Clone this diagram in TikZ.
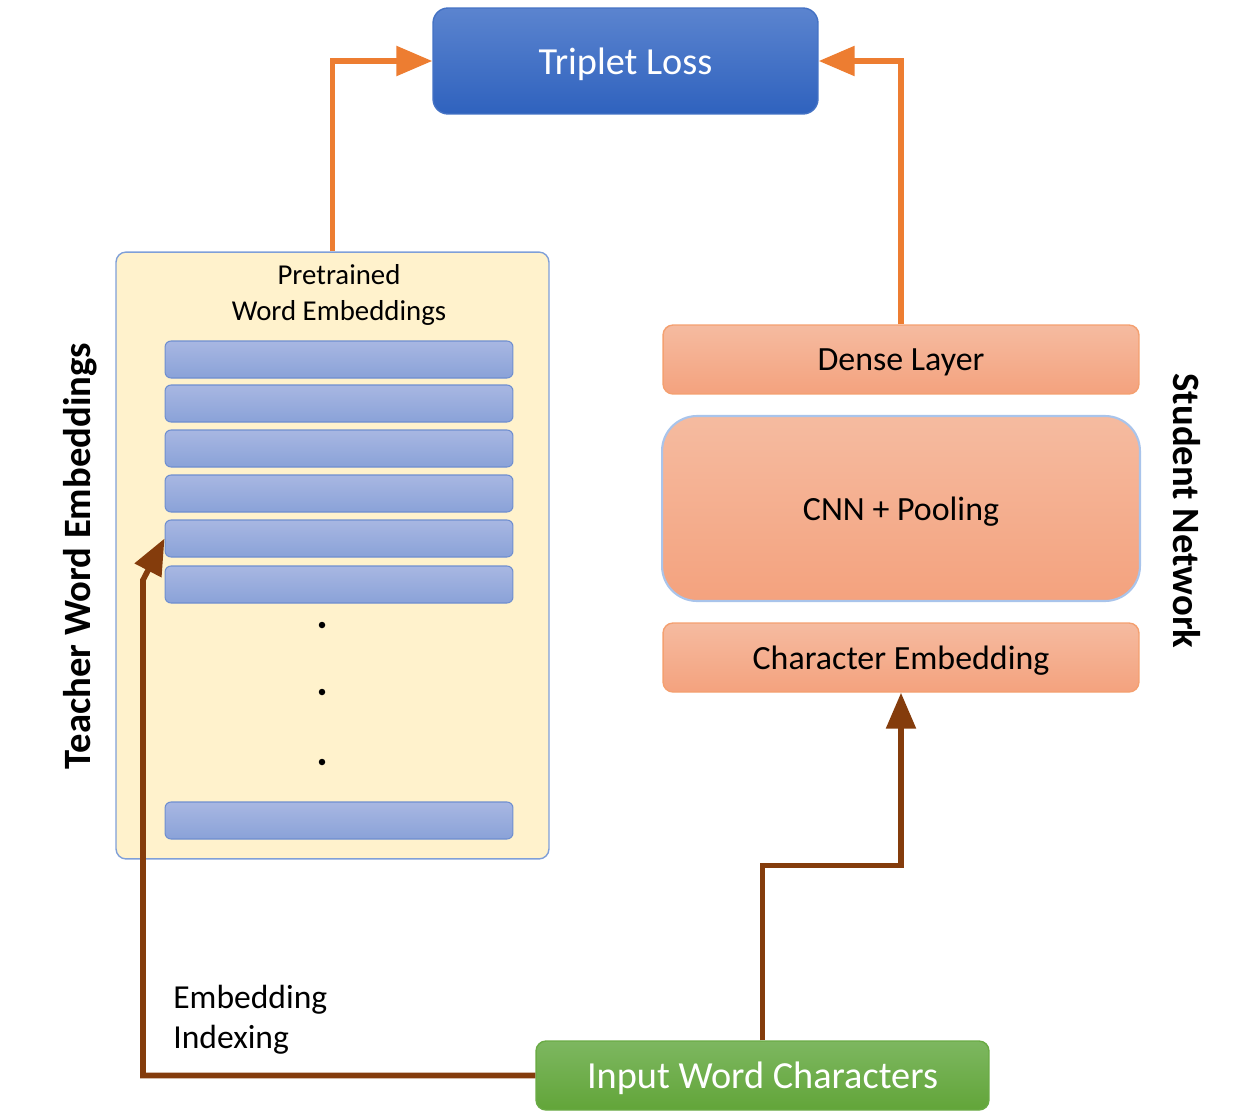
\documentclass[tikz,border=0pt]{standalone}
\usepackage{fontspec}
\setmainfont{Carlito}
\usetikzlibrary{arrows.meta}
\definecolor{tlTop}{HTML}{5B84CF}
\definecolor{tlBot}{HTML}{2F62BE}
\definecolor{tlBorder}{HTML}{4472C4}
\definecolor{teachFill}{HTML}{FFF2CC}
\definecolor{teachBorder}{HTML}{7F9FD8}
\definecolor{rowTop}{HTML}{A8B7E2}
\definecolor{rowBot}{HTML}{8AA2D8}
\definecolor{rowBorder}{HTML}{6F8FD0}
\definecolor{stTop}{HTML}{F5BBA0}
\definecolor{stBot}{HTML}{F4A27E}
\definecolor{stBorder}{HTML}{F4A070}
\definecolor{cnnBorder}{HTML}{A9C4EB}
\definecolor{inTop}{HTML}{7DB760}
\definecolor{inBot}{HTML}{62A539}
\definecolor{inBorder}{HTML}{6AAB45}
\definecolor{arrOrange}{HTML}{ED7D31}
\definecolor{arrBrown}{HTML}{843C0C}
\tikzset{
  lossbox/.style={draw=tlBorder, line width=0.8pt, rounded corners=0.3cm, top color=tlTop, bottom color=tlBot,
    minimum width=7.7cm, minimum height=2.12cm, text=white, text depth=0pt, font=\fontsize{21.8}{26}\selectfont},
  teacherbox/.style={draw=teachBorder, line width=0.8pt, fill=teachFill, rounded corners=0.2cm,
    minimum width=8.66cm, minimum height=12.14cm},
  rowbox/.style={draw=rowBorder, line width=0.6pt, rounded corners=0.12cm, top color=rowTop, bottom color=rowBot,
    minimum width=6.96cm, minimum height=0.74cm},
  layerbox/.style={draw=stBorder, line width=0.8pt, rounded corners=0.2cm, top color=stTop, bottom color=stBot,
    minimum width=9.52cm, minimum height=1.38cm, text depth=0pt, font=\fontsize{19.3}{23}\selectfont},
  cnnbox/.style={draw=cnnBorder, line width=1.2pt, rounded corners=0.7cm, top color=stTop, bottom color=stBot,
    minimum width=9.56cm, minimum height=3.7cm, text depth=0pt, font=\fontsize{19.3}{23}\selectfont},
  inputbox/.style={draw=inBorder, line width=0.8pt, rounded corners=0.2cm, top color=inTop, bottom color=inBot,
    minimum width=9.06cm, minimum height=1.38cm, text=white, text depth=0pt, font=\fontsize{21.8}{26}\selectfont},
  sidelabel/.style={font=\bfseries\fontsize{22}{26}\selectfont},
  orangearrow/.style={draw=arrOrange, line width=3.2pt, -{Triangle[length=0.72cm,width=0.58cm]}},
  brownarrow/.style={draw=arrBrown, line width=3.2pt, -{Triangle[length=0.72cm,width=0.58cm]}},
  dotmark/.style={circle, fill=black, inner sep=0pt, minimum size=0.13cm},
}
\begin{document}
\begin{tikzpicture}[x=0.02cm,y=-0.02cm]
\useasboundingbox (0,0) rectangle (1254,1112);

\node[lossbox] (loss) at (625.5,61) {Triplet Loss};

\node[teacherbox] (teacher) at (332.5,555.5) {};
\node[align=center, font=\fontsize{16.4}{20.2}\selectfont] (pretrained) at (339,295) {Pretrained\\Word Embeddings};
\node[rowbox] (r1) at (339,359.5) {};
\node[rowbox] (r2) at (339,403.5) {};
\node[rowbox] (r3) at (339,448.5) {};
\node[rowbox] (r4) at (339,493.5) {};
\node[rowbox] (r5) at (339,538.5) {};
\node[rowbox] (r6) at (339,584.5) {};
\node[rowbox] (r7) at (339,820.5) {};
\node[dotmark] (d1) at (322,625) {};
\node[dotmark] (d2) at (322,692) {};
\node[dotmark] (d3) at (322,762) {};

\node[sidelabel, rotate=90] (teachlabel) at (80,556) {Teacher Word Embeddings};

\node[layerbox] (dense) at (901,359.5) {Dense Layer};
\node[cnnbox] (cnn) at (901,508.5) {CNN + Pooling};
\node[layerbox] (char) at (901,657.5) {Character Embedding};
\node[sidelabel, rotate=-90] (studlabel) at (1187,511) {Student Network};

\node[inputbox] (input) at (762.5,1075.5) {Input Word Characters};

\node[align=left, anchor=north west, inner sep=0pt, font=\fontsize{19.1}{22.7}\selectfont] (embidx) at (173,985) {Embedding\\Indexing};

\draw[orangearrow] (teacher.north) |- (loss.west);
\draw[orangearrow] (dense.north) |- (loss.east);
\draw[brownarrow] (input.north) -- ++(0,-175) -| (char.south);
\coordinate (bend) at (143,580);
\draw[brownarrow] (input.west) -| (bend) -- (r5.west);
\end{tikzpicture}
\end{document}
